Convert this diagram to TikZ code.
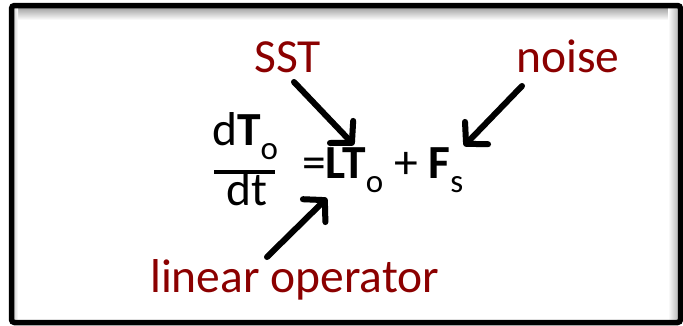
\documentclass[tikz,border=0pt]{standalone}
\usepackage{fontspec}
\setmainfont{Carlito}
\usetikzlibrary{arrows.meta}
\definecolor{lblred}{HTML}{8B0000}
\tikzset{
  lbl/.style={anchor=base west, inner sep=0pt, text=lblred, font=\fontsize{47.5}{56}\selectfont},
  eq/.style={anchor=base west, inner sep=0pt, text=black, font=\fontsize{47.5}{56}\selectfont},
  ptr/.style={line width=6pt, line cap=round, line join=round,
    -{Straight Barb[length=15pt, width=32pt, line width=6pt, line cap=round, line join=round]}},
  ptrshadow/.style={ptr, draw=black!40, opacity=0.3}
}
\newcommand{\subo}[1]{\raisebox{-14pt}{\fontsize{33}{36}\selectfont #1}}
\begin{document}
\begin{tikzpicture}[x=1pt,y=-1pt]
\useasboundingbox (0,0) rectangle (683,325);
% inner shadow bands
\shade[top color=black!35, bottom color=white] (13,8) rectangle (679,20);
\shade[left color=white, right color=black!30] (668,8) rectangle (679,321);
\shade[left color=black!20, right color=white] (13,8) rectangle (18,321);
% frame
\draw[line width=5.5pt, rounded corners=3pt] (11.5,5.5) rectangle (680.5,322.5);
% labels
\node[lbl] (sst) at (254,72) {SST};
\node[lbl] (noise) at (516,72) {noise};
\node[lbl] (lin) at (150,292) {linear operator};
% equation
\node[eq] (num) at (212,145) {d\textbf{T}\subo{o}};
\node[eq] (den) at (226,205) {dt};
\coordinate (barL) at (214,172);
\coordinate (barR) at (275,172);
\draw[line width=4pt] (barL) -- (barR);
\node[eq] (rhs) at (302,178) {=\textbf{LT}\subo{o} + \textbf{F}\subo{s}};
% arrow end points
\coordinate (a1s) at (294,82);
\coordinate (a1e) at (354,145);
\coordinate (a2s) at (522,86);
\coordinate (a2e) at (464,146);
\coordinate (a3s) at (267,257);
\coordinate (a3e) at (327,198);
% shadows
\begin{scope}[shift={(2,3)}]
\draw[ptrshadow] (a1s) -- (a1e);
\draw[ptrshadow] (a2s) -- (a2e);
\draw[ptrshadow] (a3s) -- (a3e);
\end{scope}
\draw[ptr] (a1s) -- (a1e);
\draw[ptr] (a2s) -- (a2e);
\draw[ptr] (a3s) -- (a3e);
\end{tikzpicture}
\end{document}
